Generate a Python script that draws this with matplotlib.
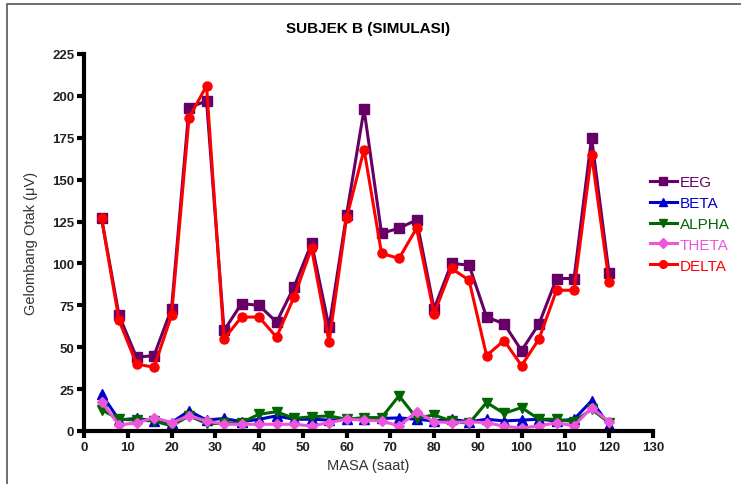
import numpy as np
import matplotlib as mpl
mpl.rcParams['font.family'] = ['Liberation Sans', 'DejaVu Sans']
import matplotlib.pyplot as plt
from matplotlib.patches import Rectangle

# sampling times (hours)
masa = list(range(4, 121, 4))

eeg = [127, 69, 44, 45, 73, 193, 197, 60, 76, 75, 65, 86, 112, 62, 129,
       192, 118, 121, 126, 73, 100, 99, 68, 64, 48, 64, 91, 91, 175, 94]
beta = [22, 6.6, 7.5, 6, 5, 12, 6.5, 7.5, 5.5, 7, 9, 7, 7, 6.5, 7,
        7, 7.5, 7.8, 7, 6, 7, 5.5, 7, 6, 6.5, 7, 6, 7, 18, 3.5]
alpha = [12.7, 7, 6.5, 6, 3, 9, 4.5, 4.5, 5, 10, 11.5, 7.5, 8.5, 9, 7,
         8, 8, 21, 7.8, 9.5, 6, 4.5, 17, 10.5, 14, 7, 7, 5.5, 13, 5]
theta = [17.5, 3.6, 4.8, 8, 5, 9, 6, 4, 4, 4, 4, 4, 3, 5, 7,
         6.5, 6, 3, 11.5, 5.5, 5, 5.5, 5, 2.8, 1.8, 3, 5, 3, 14, 5.5]
delta = [127, 66, 40, 38, 69, 187, 206, 55, 68, 68, 56, 80, 109, 53, 127,
         168, 106, 103, 121, 70, 97, 90, 45, 54, 39, 55, 84, 84, 165, 89]

series = [
    ('EEG', eeg, '#660066', 's', 6.5),
    ('BETA', beta, '#0000cc', '^', 6.5),
    ('ALPHA', alpha, '#006600', 'v', 6.5),
    ('THETA', theta, '#ee55dd', 'D', 5.5),
    ('DELTA', delta, '#ff0000', 'o', 6.5),
]

fig = plt.figure(figsize=(7.41, 4.85), dpi=100)
ax = fig.add_axes([0.1134, 0.1093, 0.881 - 0.1134, 0.8866 - 0.1093])

for name, vals, color, marker, ms in series:
    ax.plot(masa, vals, color=color, marker=marker, markersize=ms, linewidth=2.2,
            label=name)

ax.set_xlim(0, 130)
ax.set_ylim(0, 225)
ax.set_xticks(np.arange(0, 131, 10))
ax.set_yticks(np.arange(0, 226, 25))

for side in ['top', 'right']:
    ax.spines[side].set_visible(False)
for side in ['left', 'bottom']:
    ax.spines[side].set_linewidth(3)
ax.tick_params(axis='both', width=3, length=5, labelsize=9.5, pad=2,
               labelcolor='#222222')
for lbl in ax.get_xticklabels() + ax.get_yticklabels():
    lbl.set_fontweight('bold')

ax.set_xlabel('MASA (saat)', fontsize=10.5, color='#333333', labelpad=4)
ax.set_ylabel('Gelombang Otak (μV)', fontsize=10.5, color='#333333', labelpad=10)
ax.set_title('SUBJEK B (SIMULASI)', fontsize=11, fontweight='bold', pad=16)

leg = ax.legend(loc='upper left', bbox_to_anchor=(0.97, 0.715), frameon=False,
                fontsize=11, handlelength=1.8, handletextpad=0.2,
                labelspacing=0.45, labelcolor='linecolor', markerscale=0.85)

# frame around the figure
fig.patches.append(Rectangle((7 / 741, -0.1), 1.2, 1 - 5 / 485 + 0.1,
                             transform=fig.transFigure, fill=False,
                             edgecolor='#555555', linewidth=1.2))

fig.savefig('out.png', dpi=100)
